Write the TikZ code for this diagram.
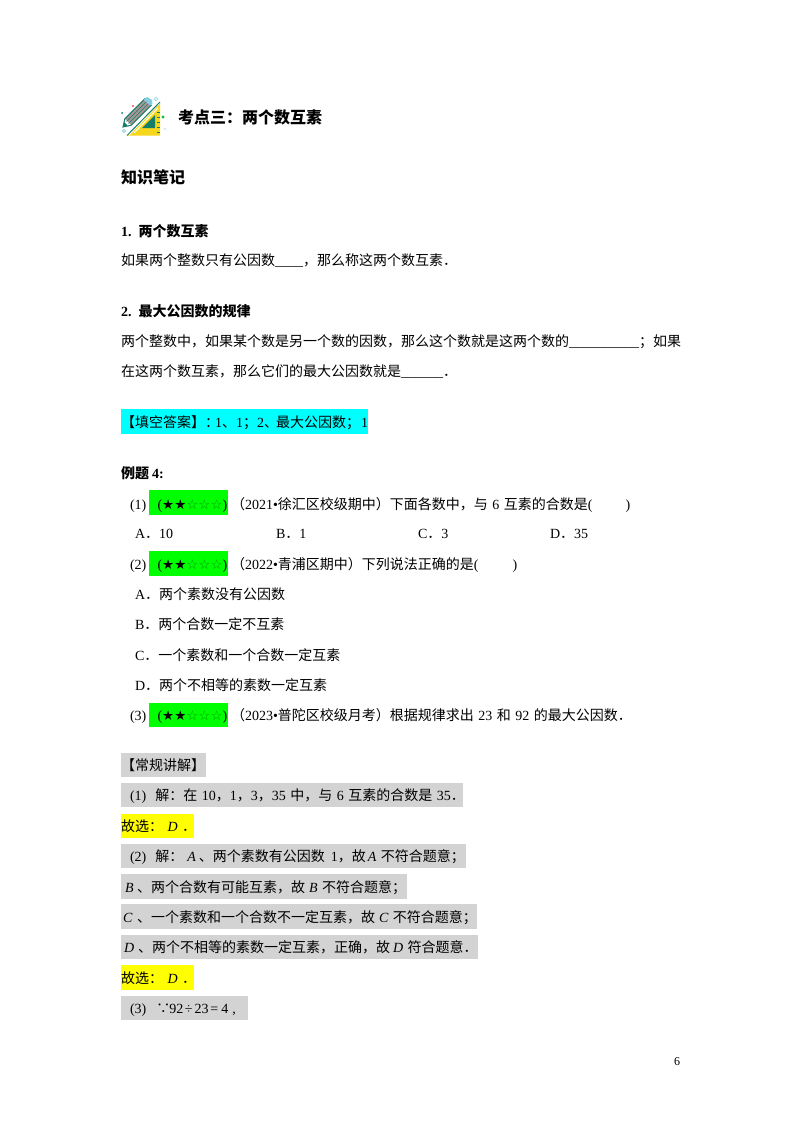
\documentclass[tikz,border=0pt]{standalone}
\usepackage{fontspec}
\setmainfont{Noto Sans CJK SC}
\newfontfamily\latin{Liberation Serif}
\newfontfamily\symb{DejaVu Sans}
\newcommand{\la}[1]{{\latin #1}}
\newcommand{\lai}[1]{{\latin\itshape #1}}
\newcommand{\lab}[1]{{\latin\bfseries #1}}
\newcommand{\gp}{\hspace{4.5pt}}
\newcommand{\starsrow}{{\latin(}{\fontsize{13.5}{14}\selectfont\symb ★★\textcolor{stargreen}{☆☆☆}}{\latin)}}
\definecolor{stargreen}{RGB}{0,150,0}
\definecolor{hlcyan}{RGB}{0,255,255}
\definecolor{hlgreen}{RGB}{0,255,0}
\definecolor{hlgrey}{RGB}{211,211,211}
\definecolor{hlyellow}{RGB}{255,255,0}
\definecolor{icteal}{RGB}{22,125,105}
\definecolor{icyellow}{RGB}{247,214,30}
\definecolor{icgrey}{RGB}{165,150,150}
\definecolor{icblue}{RGB}{130,205,225}
\tikzset{
  txt/.style={anchor=base west,inner sep=0pt,outer sep=0pt,font=\fontsize{14}{16}\selectfont,text=black},
  headtxt/.style={txt,font=\fontsize{16}{18}\selectfont\bfseries},
  boldtxt/.style={txt,font=\fontsize{14}{16}\selectfont\bfseries},
  pagenum/.style={txt,font=\fontsize{12}{14}\selectfont\latin},
  hl/.style={fill=#1,draw=none},
}
\begin{document}
\begin{tikzpicture}[x=1pt,y=-1pt]
\useasboundingbox (0,0) rectangle (800,1132);
\fill[white] (0,0) rectangle (800,1132);

% icon: set square
\fill[icyellow] (160,103) -- (160,135.5) -- (128,135.5) -- cycle;
\draw[white,line width=1.6pt] (158.5,104) -- (129,134.5);
\draw[icteal,line width=1pt] (160,102) -- (127,135.5);
\draw[white,line width=1pt] (158,108) -- (134,133);
\fill[icteal] (155,115) -- (155,128) -- (142,128) -- cycle;
\foreach \ty in {112,117,122,127,132} \draw[icteal,line width=.5pt] (157,\ty) -- (160,\ty);
% icon: pencil
\fill[icgrey] (124.8,118.8) -- (144.8,98.8) -- (151.2,105.2) -- (131.2,125.2) -- cycle;
\draw[icteal,line width=1pt] (123,127) -- (124.8,118.8) -- (144.8,98.8) -- (151.2,105.2) -- (131.2,125.2) -- cycle;
\draw[icteal,line width=.5pt] (126.5,121.5) -- (147,101);
\draw[icteal,line width=.5pt] (128.5,123.5) -- (149,103);
\fill[icteal] (123,127) -- (124.2,122) -- (127.5,125.5) -- cycle;
\fill[icblue] (143.5,99.5) -- (147,97) -- (151.5,99.5) -- (152.5,103.5) -- (150,105.5) -- cycle;
% icon: dots
\fill[icteal] (122,113) circle (1pt);
\fill[red!70!white] (133,106) circle (1.2pt);
\draw[icblue,line width=.6pt] (156,99) circle (1.8pt);
\fill[green!50!icteal] (163,117) circle (1.7pt);
\fill[icblue!50!white] (165,129) circle (1.2pt);
\draw[icblue,line width=.6pt] (124,131) circle (1.6pt);

% highlights
\fill[hl=hlcyan] (121,409) rectangle (368,434);
\fill[hl=hlgreen] (149,490) rectangle (228,515);
\fill[hl=hlgreen] (149,551) rectangle (228,576);
\fill[hl=hlgreen] (149,703) rectangle (228,727);
\fill[hl=hlgrey] (121,753) rectangle (206,777);
\fill[hl=hlgrey] (121,783) rectangle (463,807);
\fill[hl=hlyellow] (121,814) rectangle (194,838);
\fill[hl=hlgrey] (121,844) rectangle (466,868);
\fill[hl=hlgrey] (121,874) rectangle (407,899);
\fill[hl=hlgrey] (121,904) rectangle (477,929);
\fill[hl=hlgrey] (121,935) rectangle (478,959);
\fill[hl=hlyellow] (121,965) rectangle (194,990);
\fill[hl=hlgrey] (121,996) rectangle (248,1020);

% headings
\node[headtxt] (title) at (178,123) {考点三：两个数互素};
\node[headtxt] (notes) at (121,183) {知识笔记};
\node[boldtxt] (s1) at (121,236) {\lab{1.}\hspace{7pt}两个数互素};
\node[txt] (s1a) at (121,265) {如果两个整数只有公因数\la{\_\_\_\_}，那么称这两个数互素．};
\node[boldtxt] (s2) at (121,316) {\lab{2.}\hspace{7pt}最大公因数的规律};
\node[txt] (s2a) at (121,346) {两个整数中，如果某个数是另一个数的因数，那么这个数就是这两个数的\la{\_\_\_\_\_\_\_\_\_\_}；如果};
\node[txt] (s2b) at (121,376) {在这两个数互素，那么它们的最大公因数就是\la{\_\_\_\_\_\_}．};
\node[txt] (ans) at (121,427) {【填空答案】：\hspace{-4pt}\la{1}、\la{1}；\la{2}、\hspace{-2pt}最大公因数；\hspace{1pt}\la{1}};
\node[boldtxt] (ex) at (121,478) {例题 \lab{4:}};

% question 1
\node[txt] (q1n) at (130,509) {\la{(1)}};
\node[txt] (q1s) at (157.5,509) {\starsrow};
\node[txt] (q1t) at (231,509) {（\la{2021•}徐汇区校级期中）下面各数中，与\gp\la{6}\gp 互素的合数是\la{(\hspace{33pt})}};
\node[txt] (q1a) at (135,538) {\la{A}．\la{10}};
\node[txt] (q1b) at (276,538) {\la{B}．\la{1}};
\node[txt] (q1c) at (418,538) {\la{C}．\la{3}};
\node[txt] (q1d) at (550,538) {\la{D}．\la{35}};

% question 2
\node[txt] (q2n) at (130,569) {\la{(2)}};
\node[txt] (q2s) at (157.5,569) {\starsrow};
\node[txt] (q2t) at (231,569) {（\la{2022•}青浦区期中）下列说法正确的是\la{(\hspace{34pt})}};
\node[txt] (q2a) at (135,599) {\la{A}．两个素数没有公因数};
\node[txt] (q2b) at (135,629) {\la{B}．两个合数一定不互素};
\node[txt] (q2c) at (135,660) {\la{C}．一个素数和一个合数一定互素};
\node[txt] (q2d) at (135,690) {\la{D}．两个不相等的素数一定互素};

% question 3
\node[txt] (q3n) at (130,720) {\la{(3)}};
\node[txt] (q3s) at (157.5,720) {\starsrow};
\node[txt] (q3t) at (231,720) {（\la{2023•}普陀区校级月考）根据规律求出\gp\la{23}\gp 和\gp\la{92}\gp 的最大公因数．};

% worked answer
\node[txt] (w0) at (121,770) {【常规讲解】};
\node[txt] (w1) at (130,800) {\la{(1)}\hspace{9pt}解：在\gp\la{10}，\la{1}，\la{3}，\la{35}\gp 中，与\gp\la{6}\gp 互素的合数是\gp\la{35}．};
\node[txt] (w2) at (121,831) {故选：\gp\lai{D}\gp．};
\node[txt] (w3) at (130,861) {\la{(2)}\hspace{9pt}解：\hspace{4pt}\lai{A}\hspace{3pt}、两个素数有公因数\hspace{6pt}\la{1}，故\hspace{2pt}\lai{A}\gp 不符合题意；};
\node[txt] (w4) at (125,892) {\lai{B}\hspace{3.5pt}、两个合数有可能互素，故\hspace{4pt}\lai{B}\gp 不符合题意；};
\node[txt] (w5) at (123,922) {\lai{C}\hspace{4.7pt}、一个素数和一个合数不一定互素，故\hspace{4pt}\lai{C}\gp 不符合题意；};
\node[txt] (w6) at (124,952) {\lai{D}\hspace{4pt}、两个不相等的素数一定互素，正确，故\hspace{3pt}\lai{D}\gp 符合题意．};
\node[txt] (w7) at (121,983) {故选：\gp\lai{D}\gp．};
\node[txt] (w8) at (130,1013) {\la{(3)}\hspace{10pt}∵\hspace{-1pt}\la{92}\hspace{1.5pt}\la{÷}\hspace{2pt}\la{23}\hspace{2pt}\la{=}\hspace{3pt}\la{4}\hspace{4pt}\la{,}};

\node[pagenum] (pg) at (674,1065) {6};
\end{tikzpicture}
\end{document}
